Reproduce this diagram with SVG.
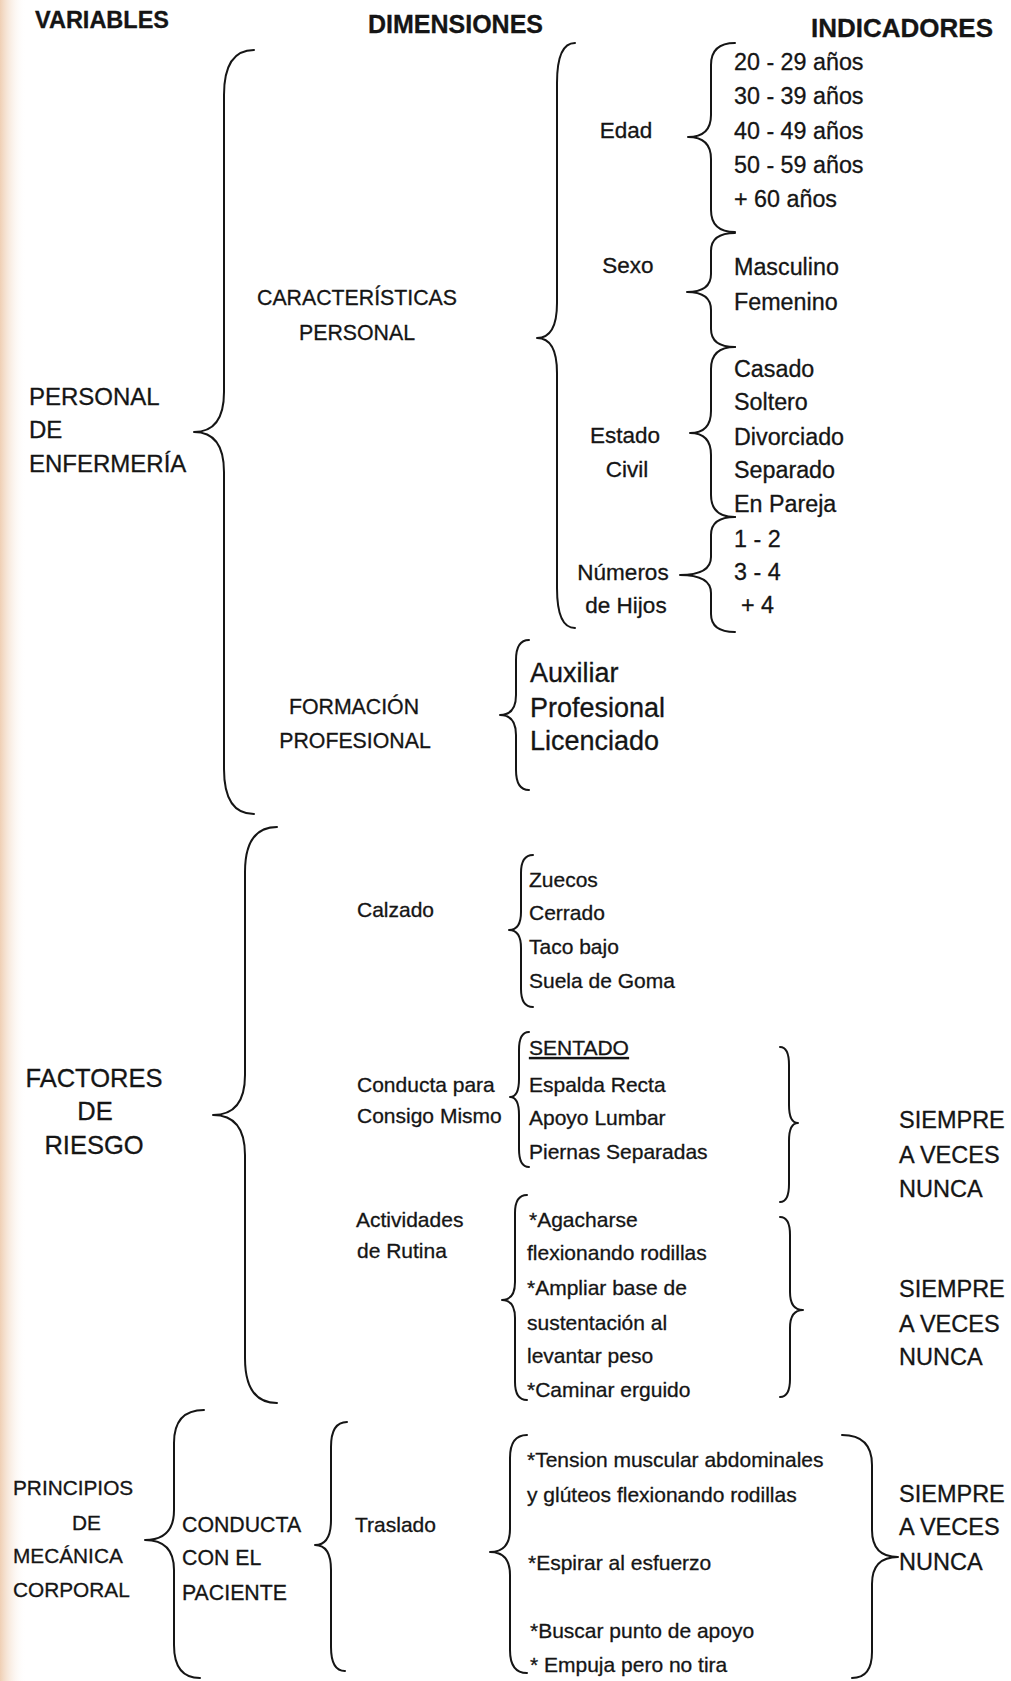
<svg xmlns="http://www.w3.org/2000/svg" width="1011" height="1681" viewBox="0 0 1011 1681">
<defs>
<linearGradient id="edge" x1="0" y1="0" x2="1" y2="0">
<stop offset="0" stop-color="#efcfb4"/>
<stop offset="1" stop-color="#ffffff" stop-opacity="0"/>
</linearGradient>
<style>
.t{font-family:"Liberation Sans",Arial,sans-serif;fill:#151515;stroke:#151515;stroke-width:0.3}
.h{font-weight:bold;font-size:25px}
.v{font-size:24px}
.d{font-size:21.3px}
.m{font-size:22.5px}
.i{font-size:23.3px}
.s{font-size:21px}
.f{font-size:27px}
.p{font-size:20.8px}
.r{font-size:23.5px}
.b{fill:none;stroke:#151515;stroke-width:2;stroke-linecap:round;stroke-linejoin:round}
</style>
</defs>
<rect width="1011" height="1681" fill="#ffffff"/>
<rect width="26" height="1681" fill="url(#edge)"/>

<g id="headers" class="t h">
<text x="35" y="28" style="font-size:23.5px">VARIABLES</text>
<text x="368" y="33">DIMENSIONES</text>
<text x="811" y="37" style="font-size:26px">INDICADORES</text>
</g>

<g id="connectors">
<path class="b" d="M254,50 Q224,50 224,95 L224,392 Q224,432 194,432 Q224,432 224,472 L224,769 Q224,814 254,814"/>
<path class="b" d="M575,43 Q557,43 557,83 L557,303 Q557,338 537,338 Q557,338 557,373 L557,588 Q557,628 575,628"/>
<path class="b" d="M735,43 Q711,43 711,65 L711,115 Q711,137 688,137 Q711,137 711,159 L711,210 Q711,232 735,232"/>
<path class="b" d="M735,233 Q711,233 711,251 L711,274 Q711,292 687,292 Q711,292 711,310 L711,329 Q711,347 735,347"/>
<path class="b" d="M735,347 Q711,347 711,369 L711,411 Q711,433 690,433 Q711,433 711,455 L711,495 Q711,517 735,517"/>
<path class="b" d="M735,517 Q711,517 711,535 L711,557 Q711,575 680,575 Q711,575 711,593 L711,614 Q711,632 735,632"/>
<path class="b" d="M529,640 Q516,640 516,660 L516,695 Q516,715 500,715 Q516,715 516,735 L516,770 Q516,790 529,790"/>
<path class="b" d="M277,827 Q245,827 245,872 L245,1075 Q245,1115 213,1115 Q245,1115 245,1155 L245,1358 Q245,1403 277,1403"/>
<path class="b" d="M533,855 Q521,855 521,873 L521,912 Q521,930 509,930 Q521,930 521,948 L521,989 Q521,1007 533,1007"/>
<path class="b" d="M529,1032 Q519,1032 519,1050 L519,1079 Q519,1097 510,1097 Q519,1097 519,1115 L519,1149 Q519,1167 529,1167"/>
<path class="b" d="M527,1195 Q515,1195 515,1213 L515,1282 Q515,1300 502,1300 Q515,1300 515,1318 L515,1382 Q515,1400 527,1400"/>
<path class="b" d="M780,1047 Q789,1047 789,1065 L789,1105 Q789,1123 798,1123 Q789,1123 789,1141 L789,1184 Q789,1202 780,1202"/>
<path class="b" d="M780,1217 Q790,1217 790,1235 L790,1292 Q790,1310 803,1310 Q790,1310 790,1328 L790,1379 Q790,1397 780,1397"/>
<path class="b" d="M204,1410 Q174,1410 174,1443 L174,1510 Q174,1540 145,1540 Q174,1540 174,1570 L174,1645 Q174,1678 200,1678"/>
<path class="b" d="M347,1422 Q331,1422 331,1447 L331,1520 Q331,1545 315,1545 Q331,1545 331,1570 L331,1647 Q331,1671 345,1671"/>
<path class="b" d="M527,1435 Q510,1435 510,1458 L510,1529 Q510,1552 490,1552 Q510,1552 510,1575 L510,1650 Q510,1673 527,1673"/>
<path class="b" d="M842,1435 Q872,1435 872,1465 L872,1530 Q872,1557 898,1557 Q872,1557 872,1584 L872,1652 Q872,1678 852,1678"/>
</g>

<g id="var-personal" class="t v">
<text x="29" y="405">PERSONAL</text>
<text x="29" y="438">DE</text>
<text x="29" y="472">ENFERMERÍA</text>
</g>

<g id="var-factores" class="t" style="font-size:25.5px" text-anchor="middle">
<text x="94" y="1087">FACTORES</text>
<text x="95" y="1120">DE</text>
<text x="94" y="1154">RIESGO</text>
</g>

<g id="var-principios" class="t p">
<text x="13" y="1495">PRINCIPIOS</text>
<text x="72" y="1530">DE</text>
<text x="13" y="1563">MECÁNICA</text>
<text x="13" y="1597">CORPORAL</text>
</g>

<g id="dim-caracteristicas" class="t d" text-anchor="middle">
<text x="357" y="305">CARACTERÍSTICAS</text>
<text x="357" y="340">PERSONAL</text>
</g>

<g id="dim-formacion" class="t d" text-anchor="middle">
<text x="354" y="714">FORMACIÓN</text>
<text x="355" y="748">PROFESIONAL</text>
</g>

<g id="dim-conducta-paciente" class="t d">
<text x="182" y="1532">CONDUCTA</text>
<text x="182" y="1565">CON EL</text>
<text x="182" y="1600">PACIENTE</text>
</g>

<g id="sub-edad" class="t m" text-anchor="middle">
<text x="626" y="138">Edad</text>
</g>
<g id="sub-sexo" class="t m" text-anchor="middle">
<text x="628" y="273">Sexo</text>
</g>
<g id="sub-estado" class="t m" text-anchor="middle">
<text x="625" y="443">Estado</text>
<text x="627" y="477">Civil</text>
</g>
<g id="sub-hijos" class="t m" text-anchor="middle">
<text x="623" y="580">Números</text>
<text x="626" y="613">de Hijos</text>
</g>

<g id="sub-calzado" class="t s"><text x="357" y="917">Calzado</text></g>
<g id="sub-conducta" class="t s">
<text x="357" y="1092">Conducta para</text>
<text x="357" y="1123">Consigo Mismo</text>
</g>
<g id="sub-actividades" class="t s">
<text x="356" y="1227">Actividades</text>
<text x="357" y="1258">de Rutina</text>
</g>
<g id="sub-traslado" class="t s"><text x="355" y="1532">Traslado</text></g>

<g id="ind-edad" class="t i">
<text x="734" y="70">20 - 29 años</text>
<text x="734" y="104">30 - 39 años</text>
<text x="734" y="139">40 - 49 años</text>
<text x="734" y="173">50 - 59 años</text>
<text x="734" y="207">+ 60 años</text>
</g>
<g id="ind-sexo" class="t i">
<text x="734" y="275">Masculino</text>
<text x="734" y="310">Femenino</text>
</g>
<g id="ind-estado" class="t i">
<text x="734" y="377">Casado</text>
<text x="734" y="410">Soltero</text>
<text x="734" y="445">Divorciado</text>
<text x="734" y="478">Separado</text>
<text x="734" y="512">En Pareja</text>
</g>
<g id="ind-hijos" class="t i">
<text x="734" y="547">1 - 2</text>
<text x="734" y="580">3 - 4</text>
<text x="741" y="613">+ 4</text>
</g>
<g id="ind-formacion" class="t f">
<text x="530" y="682">Auxiliar</text>
<text x="530" y="717">Profesional</text>
<text x="530" y="750">Licenciado</text>
</g>
<g id="ind-calzado" class="t s">
<text x="529" y="887">Zuecos</text>
<text x="529" y="920">Cerrado</text>
<text x="529" y="954">Taco bajo</text>
<text x="529" y="988">Suela de Goma</text>
</g>
<g id="ind-conducta" class="t s">
<text x="529" y="1055" text-decoration="underline">SENTADO</text>
<text x="529" y="1092">Espalda Recta</text>
<text x="529" y="1125">Apoyo Lumbar</text>
<text x="529" y="1159">Piernas Separadas</text>
</g>
<g id="ind-actividades" class="t s">
<text x="529" y="1227">*Agacharse</text>
<text x="527" y="1260">flexionando rodillas</text>
<text x="527" y="1295">*Ampliar base de</text>
<text x="527" y="1330">sustentación al</text>
<text x="527" y="1363">levantar peso</text>
<text x="527" y="1397">*Caminar erguido</text>
</g>
<g id="ind-traslado" class="t s">
<text x="527" y="1467">*Tension muscular abdominales</text>
<text x="527" y="1502">y glúteos flexionando rodillas</text>
<text x="528" y="1570">*Espirar al esfuerzo</text>
<text x="530" y="1638">*Buscar punto de apoyo</text>
<text x="530" y="1672">* Empuja pero no tira</text>
</g>

<g id="freq-1" class="t r">
<text x="899" y="1128">SIEMPRE</text>
<text x="899" y="1163">A VECES</text>
<text x="899" y="1197">NUNCA</text>
</g>
<g id="freq-2" class="t r">
<text x="899" y="1297">SIEMPRE</text>
<text x="899" y="1332">A VECES</text>
<text x="899" y="1365">NUNCA</text>
</g>
<g id="freq-3" class="t r">
<text x="899" y="1502">SIEMPRE</text>
<text x="899" y="1535">A VECES</text>
<text x="899" y="1570">NUNCA</text>
</g>
</svg>
